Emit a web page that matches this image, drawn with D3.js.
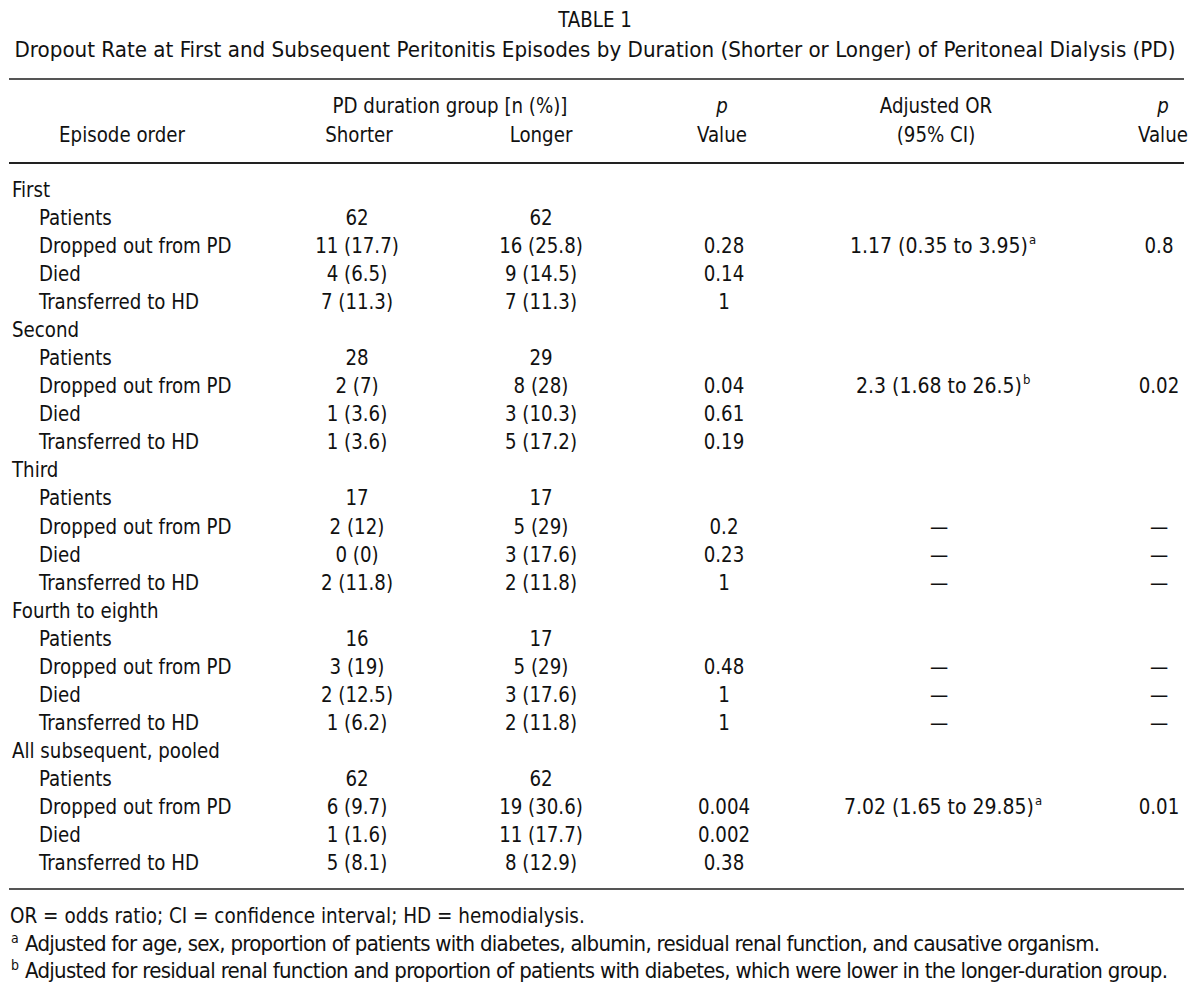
<!DOCTYPE html>
<html>
<head>
<meta charset="utf-8">
<title>Table 1</title>
<script src="https://cdn.jsdelivr.net/npm/d3@7"></script>
<style>
  body { margin: 0; background: #fff; }
  svg text { font-family: "DejaVu Sans Condensed", sans-serif; fill: #111; }
</style>
</head>
<body>
<div id="table"></div>
<script>
// data
var groups = ["First", "Second", "Third", "Fourth to eighth", "All subsequent, pooled"];
var outcomes = ["Patients", "Dropped out from PD", "Died", "Transferred to HD"];

var shorter = [
  ["62", "11 (17.7)", "4 (6.5)", "7 (11.3)"],
  ["28", "2 (7)", "1 (3.6)", "1 (3.6)"],
  ["17", "2 (12)", "0 (0)", "2 (11.8)"],
  ["16", "3 (19)", "2 (12.5)", "1 (6.2)"],
  ["62", "6 (9.7)", "1 (1.6)", "5 (8.1)"]
];
var longer = [
  ["62", "16 (25.8)", "9 (14.5)", "7 (11.3)"],
  ["29", "8 (28)", "3 (10.3)", "5 (17.2)"],
  ["17", "5 (29)", "3 (17.6)", "2 (11.8)"],
  ["17", "5 (29)", "3 (17.6)", "2 (11.8)"],
  ["62", "19 (30.6)", "11 (17.7)", "8 (12.9)"]
];
var pValue = [
  ["", "0.28", "0.14", "1"],
  ["", "0.04", "0.61", "0.19"],
  ["", "0.2", "0.23", "1"],
  ["", "0.48", "1", "1"],
  ["", "0.004", "0.002", "0.38"]
];
var adjOR = [
  ["", "1.17 (0.35 to 3.95)|a", "", ""],
  ["", "2.3 (1.68 to 26.5)|b", "", ""],
  ["", "—", "—", "—"],
  ["", "—", "—", "—"],
  ["", "7.02 (1.65 to 29.85)|a", "", ""]
];
var adjP = [
  ["", "0.8", "", ""],
  ["", "0.02", "", ""],
  ["", "—", "—", "—"],
  ["", "—", "—", "—"],
  ["", "0.01", "", ""]
];
var footnotes = [
  ["", "OR = odds ratio; CI = confidence interval; HD = hemodialysis."],
  ["a", "Adjusted for age, sex, proportion of patients with diabetes, albumin, residual renal function, and causative organism."],
  ["b", "Adjusted for residual renal function and proportion of patients with diabetes, which were lower in the longer-duration group."]
];
var footnoteWidth = [null, 1075, 1143];

var width = 1200, height = 990;
var fs = 22;
var squeeze = 0.92;   // the print face is narrower than DejaVu

var svg = d3.select("#table").append("svg")
  .attr("width", width)
  .attr("height", height);

// squeeze a text horizontally, like a condensed face
function condense(sel, k) {
  sel.each(function() {
    var len = this.getComputedTextLength();
    if (len > 0) {
      d3.select(this).attr("textLength", len * (k || squeeze)).attr("lengthAdjust", "spacingAndGlyphs");
    }
  });
}

// titles
svg.append("text").attr("x", 595).attr("y", 27).attr("text-anchor", "middle")
  .style("font-size", fs + "px").text("TABLE 1").call(condense);
svg.append("text").attr("x", 595).attr("y", 57).attr("text-anchor", "middle")
  .style("font-size", fs + "px")
  .attr("textLength", 1161).attr("lengthAdjust", "spacingAndGlyphs")
  .text("Dropout Rate at First and Subsequent Peritonitis Episodes by Duration (Shorter or Longer) of Peritoneal Dialysis (PD)");

// rules
var rule = function(y, col) {
  svg.append("line").attr("x1", 9).attr("x2", 1184).attr("y1", y).attr("y2", y)
    .attr("stroke", col).attr("stroke-width", 2);
};
rule(79, "#555");
rule(163, "#222");
rule(889, "#555");

// column positions
var cols = ["shorter", "longer", "p", "or", "p2"];
var x = d3.scaleOrdinal().domain(cols).range([357, 541, 724, 939, 1159]);

// header
var head = [
  [122, 142, "Episode order", false],
  [450, 113, "PD duration group [n (%)]", false],
  [359, 142, "Shorter", false],
  [541, 142, "Longer", false],
  [722, 113, "p", true],
  [722, 142, "Value", false],
  [936, 113, "Adjusted OR", false],
  [936, 142, "(95% CI)", false],
  [1163, 113, "p", true],
  [1163, 142, "Value", false]
];
svg.selectAll("text.head").data(head).enter().append("text")
  .attr("class", "head")
  .attr("x", function(d) { return d[0]; })
  .attr("y", function(d) { return d[1]; })
  .attr("text-anchor", "middle")
  .style("font-size", fs + "px")
  .style("font-style", function(d) { return d[3] ? "italic" : "normal"; })
  .text(function(d) { return d[2]; })
  .call(condense);

// rows
var rows = [];
groups.forEach(function(g, gi) {
  rows.push({ label: g, indent: false, cells: {} });
  outcomes.forEach(function(o, oi) {
    rows.push({ label: o, indent: true, cells: {
      shorter: shorter[gi][oi], longer: longer[gi][oi], p: pValue[gi][oi],
      or: adjOR[gi][oi], p2: adjP[gi][oi] } });
  });
});

var y = d3.scaleLinear().domain([0, rows.length - 1]).range([197, 870]);

var rowG = svg.selectAll("g.row").data(rows).enter().append("g")
  .attr("class", "row")
  .attr("transform", function(d, i) { return "translate(0," + y(i) + ")"; });

rowG.append("text")
  .attr("x", function(d) { return d.indent ? 39 : 12; })
  .style("font-size", fs + "px")
  .text(function(d) { return d.label; })
  .call(condense);

cols.forEach(function(c) {
  rowG.each(function(d) {
    var v = d.cells[c];
    if (!v) return;
    var parts = v.split("|");
    var g = d3.select(this);
    var t = g.append("text")
      .attr("x", x(c))
      .attr("text-anchor", "middle")
      .style("font-size", (parts[1] ? fs - 1 : fs) + "px")
      .text(parts[0]);
    if (parts[1]) {
      // superscript note mark right after the value
      var bb = t.node().getBBox();
      g.append("text")
        .attr("x", bb.x + bb.width + 1)
        .attr("y", -9)
        .style("font-size", "13px")
        .text(parts[1]);
    } else {
      t.call(condense);
    }
  });
});

// footnotes
var fy = d3.scaleLinear().domain([0, 2]).range([923, 978]);
var fn = svg.selectAll("g.fn").data(footnotes).enter().append("g")
  .attr("class", "fn")
  .attr("transform", function(d, i) { return "translate(0," + fy(i) + ")"; });
fn.append("text")
  .attr("x", 11).attr("y", -8)
  .style("font-size", "14px")
  .text(function(d) { return d[0]; });
fn.append("text")
  .attr("x", function(d) { return d[0] ? 25 : 10; })
  .style("font-size", fs + "px")
  .text(function(d) { return d[1]; })
  .each(function(d, i) {
    var el = d3.select(this);
    if (footnoteWidth[i]) {
      el.attr("textLength", footnoteWidth[i]).attr("lengthAdjust", "spacing");
    } else {
      el.call(condense, 0.93);
    }
  });
</script>
</body>
</html>
